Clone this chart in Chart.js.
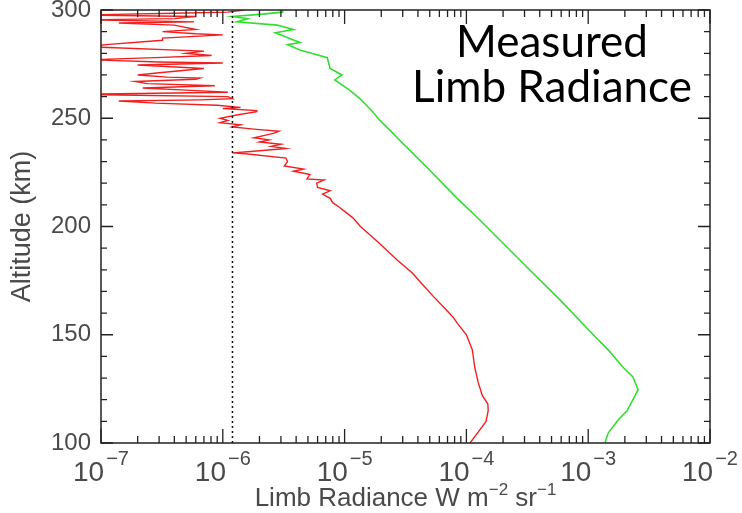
<!DOCTYPE html>
<html lang="en">
<head>
  <meta charset="UTF-8">
  <title>Measured Limb Radiance</title>
  <script src="https://cdn.jsdelivr.net/npm/chart.js@4.4.1/dist/chart.umd.min.js"></script>
  <style>
    * { box-sizing: border-box; margin: 0; padding: 0; }
    html, body { width: 742px; height: 513px; overflow: hidden; background: #fff; }
    .chart-container { position: relative; width: 742px; height: 513px; }
  </style>
</head>
<body>
  <div class="chart-container">
    <canvas id="chart" width="742" height="513"></canvas>
  </div>

  <script>
    // Red profile (altitude km / radiance W m-2 sr-1)
    const redAltitude = [
      100, 105, 110, 115, 118, 122, 128, 135, 143, 150, 155, 158, 162, 167.5, 173, 178.5, 184.5, 192, 200, 204,
      207, 209, 211, 213, 215, 216.5, 218, 220, 221.5, 222, 224, 225.5, 226.5, 228, 230, 231.6, 233.5, 234, 234.5, 236,
      237, 238, 239, 240, 241, 243, 244, 245, 246, 247, 248, 249, 250, 251.5, 253, 253.5, 254.5, 255, 256, 257,
      258, 258.5, 259, 260, 261, 262, 263, 264, 265, 266, 267, 268, 268.6, 269, 270, 271, 273, 274.6, 275.5, 276,
      277, 278, 279, 280, 281, 283, 284, 286, 287, 288.5, 289, 290, 291, 293, 294, 294.5, 295.5, 296, 297, 297.7,
      298.5, 299, 300
    ];
    const redRadiance = [
      1.07e-4, 1.25e-4, 1.45e-4, 1.51e-4, 1.5e-4, 1.35e-4, 1.25e-4, 1.17e-4, 1.12e-4, 1.0e-4, 8.5e-5, 7.8e-5, 6.7e-5, 5.4e-5, 4.4e-5, 3.6e-5, 2.7e-5, 1.95e-5, 1.35e-5, 1.17e-5,
      1.0e-5, 9.0e-6, 8.0e-6, 7.6e-6, 6.6e-6, 7.6e-6, 6.0e-6, 5.9e-6, 6.8e-6, 4.9e-6, 5.2e-6, 3.8e-6, 4.6e-6, 3.2e-6, 3.4e-6, 3.3e-6, 1.6e-6, 1.2e-6, 1.6e-6, 3.3e-6,
      2.5e-6, 3.0e-6, 2.0e-6, 2.4e-6, 1.8e-6, 2.6e-6, 2.9e-6, 1.8e-6, 1.2e-6, 1.4e-6, 9.5e-7, 1.1e-6, 9.5e-7, 1.3e-6, 1.9e-6, 1.9e-6, 1.0e-6, 1.4e-6, 9e-7, 2.8e-7,
      1.4e-7, 6.5e-7, 1.2e-6, 1.1e-6, 6e-8, 1.1e-6, 5e-7, 2.2e-7, 8.6e-7, 2.4e-7, 1.9e-7, 6.0e-7, 6.5e-7, 3.5e-7, 2.0e-7, 3e-7, 7e-7, 2.0e-7, 1.0e-6, 3e-7,
      8e-8, 2.8e-7, 8.1e-7, 5e-7, 7e-7, 8e-8, 1.1e-7, 3.2e-7, 3.2e-7, 1.0e-6, 6e-7, 3.2e-7, 6e-7, 4e-7, 1.4e-7, 5.8e-7, 8e-8, 4e-7, 6e-7, 7e-8,
      4e-7, 1.1e-6, 1.5e-6
    ];

    // Green profile
    const greenAltitude = [
      100, 104.6, 110.6, 115, 120, 124.5, 130.5, 135, 143, 150, 166, 180, 203, 213, 226, 234, 241, 243, 249, 253,
      259, 263, 267.7, 270, 273, 278, 281.5, 284, 285, 287, 289.5, 291, 293, 294.5, 296, 297, 298, 299, 300
    ];
    const greenRadiance = [
      1.37e-3, 1.46e-3, 1.76e-3, 2.09e-3, 2.33e-3, 2.57e-3, 2.33e-3, 1.93e-3, 1.46e-3, 1.1e-3, 5.9e-4, 3.3e-4, 1.29e-4, 8.4e-5, 5.0e-5, 3.6e-5, 2.7e-5, 2.5e-5, 1.95e-5, 1.7e-5,
      1.34e-5, 1.1e-5, 8.3e-6, 9.5e-6, 7.6e-6, 7.2e-6, 4.3e-6, 3.4e-6, 4.3e-6, 3.5e-6, 2.7e-6, 3.8e-6, 2.8e-6, 1.3e-6, 1.6e-6, 1.2e-6, 2.0e-6, 3.1e-6, 3.1e-6
    ];

    // Noise level (dotted line)
    const noiseLevel = 1.2e-6;
    const noiseAltitude = [100, 300];

    // Axis ticks
    const xDecades = [1e-7, 1e-6, 1e-5, 1e-4, 1e-3, 1e-2];
    const xExponents = ['\u22127', '\u22126', '\u22125', '\u22124', '\u22123', '\u22122'];
    const xMinor = [2, 3, 4, 5, 6, 7, 8, 9];
    const yMajor = [100, 150, 200, 250, 300];
    const yMinorStep = 10;

    const toPoints = (xs, ys) => xs.map((v, i) => ({ x: v, y: ys[i] }));

    const labelColor = '#4a4a4a';
    const labelFont = '"Liberation Sans", Arial, sans-serif';

    // Cadre + ticks intérieurs style IDL
    const axisFrame = {
      id: 'axisFrame',
      afterDatasetsDraw(chart) {
        const { ctx, chartArea: a, scales } = chart;
        const sx = scales.x, sy = scales.y;
        ctx.save();
        ctx.strokeStyle = '#222';
        ctx.lineWidth = 1.5;
        ctx.strokeRect(a.left, a.top, a.right - a.left, a.bottom - a.top);

        ctx.lineWidth = 1.3;
        ctx.beginPath();
        xDecades.forEach((d, i) => {
          const px = sx.getPixelForValue(d);
          ctx.moveTo(px, a.bottom); ctx.lineTo(px, a.bottom - 14);
          ctx.moveTo(px, a.top); ctx.lineTo(px, a.top + 14);
          if (i < xDecades.length - 1) {
            xMinor.forEach(m => {
              const p = sx.getPixelForValue(m * d);
              ctx.moveTo(p, a.bottom); ctx.lineTo(p, a.bottom - 7);
              ctx.moveTo(p, a.top); ctx.lineTo(p, a.top + 7);
            });
          }
        });
        for (let v = yMajor[0]; v <= yMajor[yMajor.length - 1]; v += yMinorStep) {
          const py = sy.getPixelForValue(v);
          const len = yMajor.includes(v) ? 12 : 6;
          ctx.moveTo(a.left, py); ctx.lineTo(a.left + len, py);
          ctx.moveTo(a.right, py); ctx.lineTo(a.right - len, py);
        }
        ctx.stroke();

        // Labels X : 10^n
        ctx.fillStyle = labelColor;
        ctx.textBaseline = 'alphabetic';
        xDecades.forEach((d, i) => {
          const px = sx.getPixelForValue(d);
          ctx.font = '28px ' + labelFont;
          const wBase = ctx.measureText('10').width;
          ctx.font = '20px ' + labelFont;
          const wExp = ctx.measureText(xExponents[i]).width;
          const x0 = px - (wBase + 2 + wExp) / 2;
          ctx.font = '28px ' + labelFont;
          ctx.textAlign = 'left';
          ctx.fillText('10', x0, 481);
          ctx.font = '20px ' + labelFont;
          ctx.fillText(xExponents[i], x0 + wBase + 2, 465);
        });

        // Titre axe X avec exposants
        const parts = [
          { t: 'Limb Radiance W m', size: 26, dy: 0 },
          { t: '\u22122', size: 17, dy: -11 },
          { t: ' sr', size: 26, dy: 0 },
          { t: '\u22121', size: 17, dy: -11 }
        ];
        let total = 0;
        parts.forEach(p => { ctx.font = p.size + 'px ' + labelFont; p.w = ctx.measureText(p.t).width; total += p.w; });
        let cx = (a.left + a.right) / 2 - total / 2;
        parts.forEach(p => {
          ctx.font = p.size + 'px ' + labelFont;
          ctx.fillText(p.t, cx, 506 + p.dy);
          cx += p.w;
        });
        ctx.restore();
      },
      afterDraw(chart) {
        const { ctx } = chart;
        ctx.save();
        ctx.fillStyle = '#000';
        ctx.textAlign = 'center';
        ctx.textBaseline = 'alphabetic';
        ctx.font = '44px Lato, "Open Sans", sans-serif';
        ctx.fillText('Measured', 552, 57);
        ctx.fillText('Limb Radiance', 552, 102);
        ctx.restore();
      }
    };

    const chart = new Chart(document.getElementById('chart'), {
      type: 'scatter',
      data: {
        datasets: [
          {
            label: 'Noise level',
            data: toPoints(noiseAltitude.map(() => noiseLevel), noiseAltitude),
            showLine: true,
            borderColor: '#111',
            borderWidth: 1.5,
            borderDash: [2, 3],
            pointRadius: 0,
          },
          {
            label: 'Red',
            data: toPoints(redRadiance, redAltitude),
            showLine: true,
            borderColor: '#f02020',
            borderWidth: 1.4,
            pointRadius: 0,
            tension: 0,
          },
          {
            label: 'Green',
            data: toPoints(greenRadiance, greenAltitude),
            showLine: true,
            borderColor: '#33dd33',
            borderWidth: 1.6,
            pointRadius: 0,
            tension: 0,
          }
        ]
      },
      options: {
        responsive: false,
        animation: false,
        devicePixelRatio: 1,
        layout: { padding: { left: 6, top: 10, right: 32, bottom: 0 } },
        plugins: {
          legend: { display: false },
          tooltip: { enabled: false },
        },
        scales: {
          x: {
            type: 'logarithmic',
            position: 'bottom',
            min: 1e-7,
            max: 1e-2,
            grid: { display: false, drawTicks: false },
            border: { display: false },
            ticks: { display: false },
            afterFit(scale) { scale.height = 70; scale.paddingLeft = 0; scale.paddingRight = 0; },
          },
          y: {
            type: 'linear',
            min: 100,
            max: 300,
            grid: { display: false, drawTicks: false },
            border: { display: false },
            ticks: {
              stepSize: 50,
              padding: 10,
              color: labelColor,
              font: { family: labelFont, size: 24 },
              callback: v => yMajor.includes(v) ? String(v) : '',
            },
            title: {
              display: true,
              text: 'Altitude (km)',
              color: labelColor,
              font: { family: labelFont, size: 27 },
              padding: 0,
            },
            afterFit(scale) { scale.width = 95; scale.paddingTop = 0; scale.paddingBottom = 0; },
          }
        }
      },
      plugins: [axisFrame]
    });
  </script>
</body>
</html>
